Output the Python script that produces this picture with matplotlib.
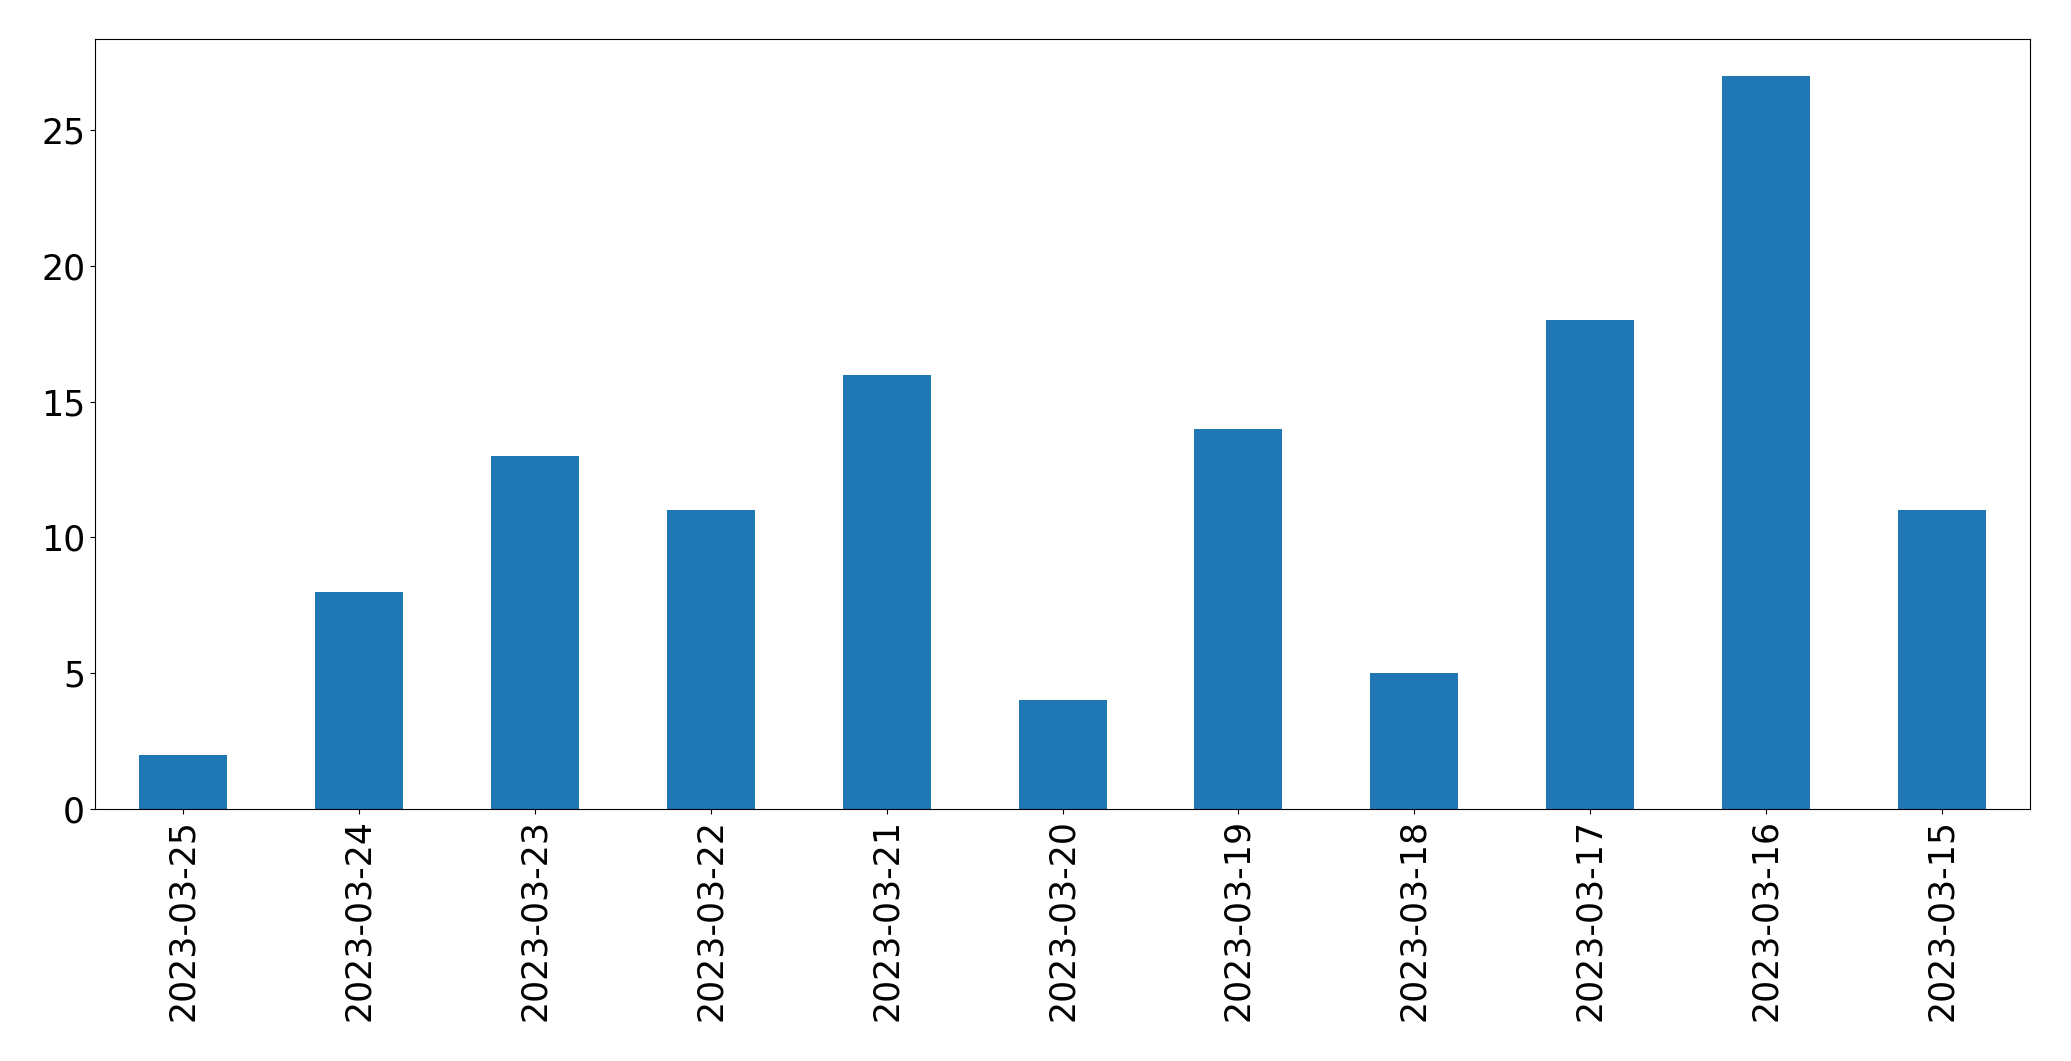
import matplotlib
matplotlib.use("Agg")
from matplotlib import pyplot as plt
import numpy as np

dates = ["2023-03-25", "2023-03-24", "2023-03-23", "2023-03-22",
         "2023-03-21", "2023-03-20", "2023-03-19", "2023-03-18",
         "2023-03-17", "2023-03-16", "2023-03-15"]
counts = [2, 8, 13, 11, 16, 4, 14, 5, 18, 27, 11]


def plot_graph():
    fig = plt.figure(figsize=(20.71, 10.61), dpi=100)
    ax = fig.add_axes([0.0458, 0.2375, 0.9345, 0.7255])
    x = np.arange(len(dates))
    ax.bar(x, counts, width=0.5, color="#1f77b4")
    ax.set_xlim(-0.5, len(dates) - 0.5)
    ax.set_xticks(x)
    ax.set_xticklabels(dates, rotation=90)
    ax.set_yticks([0, 5, 10, 15, 20, 25])
    ax.tick_params(labelsize=25)
    fig.savefig("out.png", dpi=100)


plot_graph()
